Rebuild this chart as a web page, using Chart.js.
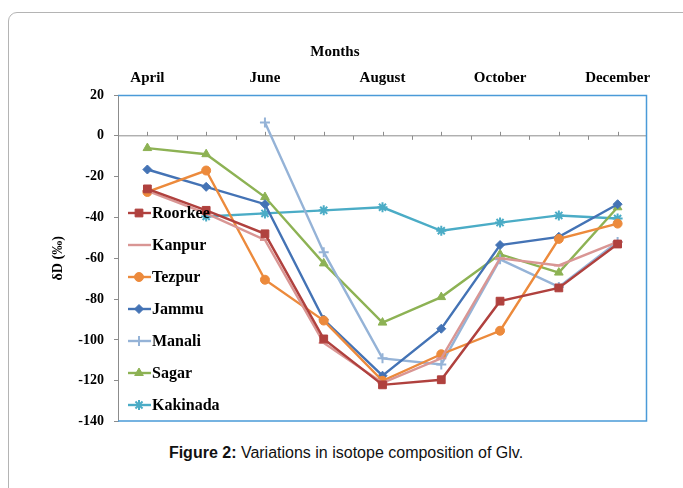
<!DOCTYPE html>
<html>
<head>
<meta charset="utf-8">
<script src="https://cdn.jsdelivr.net/npm/chart.js@4.4.0/dist/chart.umd.min.js"></script>
<style>
    body { margin: 0; background: #fff; width: 683px; height: 488px; overflow: hidden; position: relative; }
    #frame { position: absolute; left: 8px; top: 12px; width: 690px; height: 520px; border: 1px solid #b4b4b4; border-radius: 9px; }
    #wrap { position: absolute; left: 0; top: 0; width: 683px; height: 440px; }
    #caption { position: absolute; left: 0; top: 444px; width: 692px; text-align: center; font-family: "Liberation Sans", Arial, sans-serif; font-size: 16px; color: #111; }
</style>
</head>
<body>
<div id="frame"></div>
<div id="wrap"><canvas id="isoChart"></canvas></div>
<div id="caption"><b>Figure 2:</b> Variations in isotope composition of Glv.</div>
<script>
const months = ['April', 'May', 'June', 'July', 'August', 'September', 'October', 'November', 'December'];
const yTicks = [20, 0, -20, -40, -60, -80, -100, -120, -140];

const roorkee  = [-26, -36.5, -48, -99.5, -122, -119.5, -81, -74.5, -53];
const kanpur   = [-27, -38, -51, -101.5, -121, -109, -60, -63.5, -52];
const tezpur   = [-27.5, -17, -70.5, -90.5, -120, -107, -95.5, -50.5, -43];
const jammu    = [-16.5, -25, -33.5, -90, -117.5, -94.5, -53.5, -49.5, -33.5];
const manali   = [null, null, 6.5, -57, -109, -112, -60.5, -74, -52];
const sagar    = [-6, -9, -30, -62.5, -91.5, -79, -58, -67, -35];
const kakinada = [null, -39.5, -38, -36.5, -35, -46.5, -42.5, -39, -40.5];

const serif = '"Liberation Serif", "Times New Roman", serif';

function series(label, data, color, style, radius) {
    return {
        label: label,
        data: data,
        borderColor: color,
        backgroundColor: color,
        pointBackgroundColor: color,
        pointBorderColor: color,
        pointStyle: style,
        pointRadius: radius,
        pointBorderWidth: style === 'line' || style === 'cross' || style === 'star' ? 2 : 1,
        borderWidth: 2.4,
        tension: 0,
        spanGaps: false
    };
}

// plot frame, zero line ticks, axis title and inner legend
const decorations = {
    id: 'decorations',
    beforeDatasetsDraw(chart) {
        const { ctx, chartArea: a, scales } = chart;
        const y0 = scales.y.getPixelForValue(0);
        const x = scales.x;
        ctx.save();
        ctx.strokeStyle = '#8c8c8c';
        ctx.lineWidth = 1;
        ctx.beginPath();
        ctx.moveTo(a.left, y0);
        ctx.lineTo(a.right, y0);
        for (let i = 0; i < months.length; i++) {
            const px = Math.round(x.getPixelForValue(i)) + 0.5;
            ctx.moveTo(px, y0);
            ctx.lineTo(px, y0 - 4);
            const half = Math.round(x.getPixelForValue(i - 0.5)) + 0.5;
            ctx.moveTo(half, y0);
            ctx.lineTo(half, y0 + 4);
        }
        ctx.moveTo(a.right - 0.5, y0);
        ctx.lineTo(a.right - 0.5, y0 + 4);
        ctx.stroke();
        ctx.restore();
    },
    afterDraw(chart) {
        const { ctx, chartArea: a } = chart;
        ctx.save();
        ctx.lineWidth = 1.5;
        ctx.strokeStyle = '#4a9ad8';
        ctx.beginPath();
        ctx.moveTo(a.left, a.top + 0.5);
        ctx.lineTo(a.right - 0.5, a.top + 0.5);
        ctx.lineTo(a.right - 0.5, a.bottom - 0.5);
        ctx.lineTo(a.left, a.bottom - 0.5);
        ctx.stroke();

        ctx.fillStyle = '#000';
        ctx.font = 'bold 15px ' + serif;
        ctx.textAlign = 'center';
        ctx.textBaseline = 'middle';
        ctx.fillText('Months', a.left + (a.right - a.left) * 0.41, 52);

        // legend
        const lx = a.left + 10;
        let ly = a.top + 118;
        ctx.font = 'bold 16px ' + serif;
        ctx.textAlign = 'left';
        chart.data.datasets.forEach(ds => {
            ctx.strokeStyle = ds.borderColor;
            ctx.lineWidth = 2.4;
            ctx.beginPath();
            ctx.moveTo(lx, ly);
            ctx.lineTo(lx + 23, ly);
            ctx.stroke();
            ctx.fillStyle = ds.backgroundColor;
            ctx.lineWidth = ds.pointBorderWidth;
            Chart.helpers.drawPoint(ctx, {
                pointStyle: ds.pointStyle,
                radius: ds.pointRadius,
                rotation: 0,
                borderWidth: ds.pointBorderWidth
            }, lx + 11, ly);
            ctx.fillStyle = '#000';
            ctx.fillText(ds.label, lx + 24, ly + 1);
            ly += 32;
        });
        ctx.restore();
    }
};

new Chart(document.getElementById('isoChart'), {
    type: 'line',
    data: {
        labels: months,
        datasets: [
            series('Roorkee', roorkee, '#b0413e', 'rect', 5.5),
            series('Kanpur', kanpur, '#d99694', 'line', 5),
            series('Tezpur', tezpur, '#ec8a3c', 'circle', 4.5),
            series('Jammu', jammu, '#4473b5', 'rectRot', 4.5),
            series('Manali', manali, '#95b3d7', 'cross', 5),
            series('Sagar', sagar, '#8db254', 'triangle', 5),
            series('Kakinada', kakinada, '#4bacc6', 'star', 5)
        ]
    },
    options: {
        responsive: true,
        maintainAspectRatio: false,
        animation: false,
        layout: { padding: { left: 50, top: 40, right: 36, bottom: 18 } },
        plugins: {
            legend: { display: false },
            tooltip: { enabled: false }
        },
        scales: {
            x: {
                type: 'category',
                position: 'top',
                offset: true,
                grid: { display: false, drawTicks: false },
                border: { display: false },
                ticks: {
                    autoSkip: false,
                    maxRotation: 0,
                    padding: 8,
                    color: '#000',
                    font: { family: serif, size: 15, weight: 'bold' },
                    callback: (v, i) => i % 2 === 0 ? months[i] : ''
                },
                afterFit: s => { s.height = 55; }
            },
            y: {
                min: -140,
                max: 20,
                afterBuildTicks: s => { s.ticks = yTicks.map(v => ({ value: v })); },
                grid: {
                    drawOnChartArea: false,
                    drawTicks: true,
                    tickLength: 4,
                    tickColor: '#8c8c8c'
                },
                border: { color: '#8c8c8c', width: 1 },
                ticks: {
                    padding: 10,
                    color: '#000',
                    font: { family: serif, size: 14, weight: 'bold' }
                },
                title: {
                    display: true,
                    text: 'δD (‰)',
                    color: '#000',
                    padding: 0,
                    font: { family: serif, size: 14, weight: 'bold' }
                },
                afterFit: s => { s.width = 68; }
            }
        }
    },
    plugins: [decorations]
});
</script>
</body>
</html>
